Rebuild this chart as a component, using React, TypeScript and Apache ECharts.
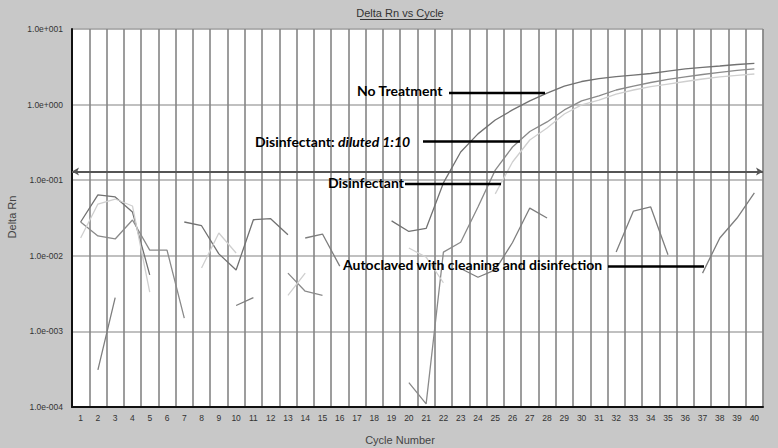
import React, { useEffect, useRef } from "react";
import * as echarts from "echarts";

const cycles: string[] = Array.from({ length: 40 }, (_, i) => String(i + 1));

const noTreatment: (number | null)[] = [
  0.028, 0.064, 0.06, 0.038, 0.0056, null, 0.028, 0.025, 0.0106, 0.0065,
  0.03, 0.031, 0.019, null, null, null, null, null, 0.029, 0.021,
  0.023, 0.092, 0.236, 0.41, 0.625, 0.85, 1.12, 1.42, 1.76, 2.02,
  2.21, 2.35, 2.46, 2.58, 2.78, 2.96, 3.1, 3.24, 3.39, 3.52,
];

const diluted: (number | null)[] = [
  0.028, 0.0183, 0.0167, 0.0298, 0.0119, 0.0119, 0.0015, null, null, null,
  null, null, 0.0059, 0.0034, 0.003, null, null, null, null, 0.00021,
  0.00011, 0.0112, 0.0151, 0.0443, 0.136, 0.275, 0.44, 0.59, 0.85, 1.12,
  1.3, 1.56, 1.76, 1.96, 2.15, 2.32, 2.5, 2.66, 2.83, 2.96,
];

const disinfectant: (number | null)[] = [
  0.0172, 0.0484, 0.0564, 0.0456, 0.0033, null, null, 0.0069, 0.02, 0.0109,
  null, null, 0.003, 0.0059, null, null, null, null, null, 0.0127,
  0.0096, 0.0044, null, null, 0.066, 0.174, 0.34, 0.49, 0.75, 0.99,
  1.15, 1.38, 1.56, 1.73, 1.87, 2.02, 2.18, 2.32, 2.43, 2.54,
];

const autoclaved: (number | null)[] = [
  null, 0.00031, 0.0028, null, null, null, null, null, null, 0.0022,
  0.0028, null, null, 0.0172, 0.0194, 0.0073, null, null, null, null,
  null, null, 0.0068, 0.0052, 0.0065, 0.015, 0.0428, 0.0316, null, null,
  null, 0.0112, 0.039, 0.0443, 0.0103, null, 0.0059, 0.0172, 0.0316, 0.0678,
];

const threshold = 0.13;

const annotations = [
  { text: "No Treatment", x: 357, y: 90, line: [449, 545, 93] },
  { text: "Disinfectant: {i|diluted 1:10}", x: 255, y: 141, line: [423, 520, 141.5] },
  { text: "Disinfectant", x: 328, y: 182, line: [405, 501, 184] },
  { text: "Autoclaved with cleaning and disinfection", x: 343, y: 264, line: [608, 704, 266.5] },
];

function fmtLog(v: number): string {
  const e = Math.round(Math.log10(v));
  const s = e < 0 ? "-" : "+";
  return "1.0e" + s + String(Math.abs(e)).padStart(3, "0");
}

export default function App() {
  const ref = useRef<HTMLDivElement>(null);
  useEffect(() => {
    if (!ref.current) return;
    const chart = echarts.init(ref.current, undefined, { renderer: "svg" });
    const lineSeries = (name: string, data: (number | null)[], color: string, extra: any = {}) => ({
      name,
      type: "line",
      data,
      showSymbol: false,
      symbol: "none",
      connectNulls: false,
      lineStyle: { color, width: 1.3 },
      z: 3,
      ...extra,
    });
    const annGraphics: any[] = [];
    annotations.forEach((a) => {
      annGraphics.push({
        type: "text",
        x: a.x,
        y: a.y,
        z: 100,
        style: {
          text: a.text,
          fill: "#000",
          font: "bold 14px Lato",
          textAlign: "left",
          textVerticalAlign: "middle",
          rich: {
            i: { fontStyle: "italic", fontWeight: "bold", fontSize: 14, fontFamily: "Lato", fill: "#000" },
          },
        },
      });
      annGraphics.push({
        type: "line",
        z: 100,
        shape: { x1: a.line[0], y1: a.line[2], x2: a.line[1], y2: a.line[2] },
        style: { stroke: "#000", lineWidth: 2.5 },
      });
    });
    chart.setOption({
      animation: false,
      backgroundColor: "#c8c8c8",
      grid: {
        left: 72,
        top: 29,
        right: 15,
        bottom: 41,
        show: true,
        backgroundColor: "#ffffff",
        borderColor: "#999",
        borderWidth: 1,
      },
      xAxis: {
        type: "category",
        data: cycles,
        boundaryGap: true,
        axisLine: { show: true, lineStyle: { color: "#111", width: 2 } },
        axisTick: { show: false },
        axisLabel: {
          interval: 0,
          color: "#333",
          fontSize: 8.5,
          fontFamily: "Liberation Sans",
          margin: 6,
        },
        splitLine: { show: true, interval: 0, lineStyle: { color: "#858585", width: 1.6 } },
      },
      yAxis: {
        type: "log",
        logBase: 10,
        min: 0.0001,
        max: 10,
        splitNumber: 5,
        axisLine: { show: true, lineStyle: { color: "#111", width: 2 } },
        axisTick: { show: false },
        axisLabel: {
          color: "#333",
          fontSize: 8.5,
          fontFamily: "Liberation Sans",
          margin: 9,
          formatter: (v: number) => fmtLog(v),
        },
        splitLine: { show: true, lineStyle: { color: "#ababab", width: 1.5 } },
      },
      series: [
        lineSeries("No Treatment", noTreatment, "#727272", {
          markLine: {
            silent: true,
            symbol: ["arrow", "arrow"],
            symbolSize: [6, 7],
            label: { show: false },
            lineStyle: { color: "#555", width: 2, type: "solid" },
            data: [{ yAxis: threshold }],
          },
        }),
        lineSeries("Disinfectant: diluted 1:10", diluted, "#8a8a8a"),
        lineSeries("Disinfectant", disinfectant, "#cfcfcf"),
        lineSeries("Autoclaved with cleaning and disinfection", autoclaved, "#7e7e7e"),
      ],
      graphic: [
        {
          type: "text",
          x: 400,
          y: 13,
          style: {
            text: "Delta Rn vs Cycle",
            fill: "#333",
            font: "11px 'Liberation Sans'",
            textAlign: "center",
            textVerticalAlign: "middle",
          },
        },
        {
          type: "line",
          shape: { x1: 360, y1: 19.5, x2: 441, y2: 19.5 },
          style: { stroke: "#333", lineWidth: 1 },
        },
        {
          type: "text",
          x: 400,
          y: 440,
          style: {
            text: "Cycle Number",
            fill: "#444",
            font: "11px 'Liberation Sans'",
            textAlign: "center",
            textVerticalAlign: "middle",
          },
        },
        {
          type: "text",
          x: 12,
          y: 217,
          rotation: Math.PI / 2,
          style: {
            text: "Delta Rn",
            fill: "#444",
            font: "11px 'Liberation Sans'",
            textAlign: "center",
            textVerticalAlign: "middle",
          },
        },
        ...annGraphics,
      ],
    });
    return () => chart.dispose();
  }, []);
  return (
    <div
      ref={ref}
      style={{ position: "fixed", left: 0, top: 0, width: 778, height: 448 }}
    />
  );
}
